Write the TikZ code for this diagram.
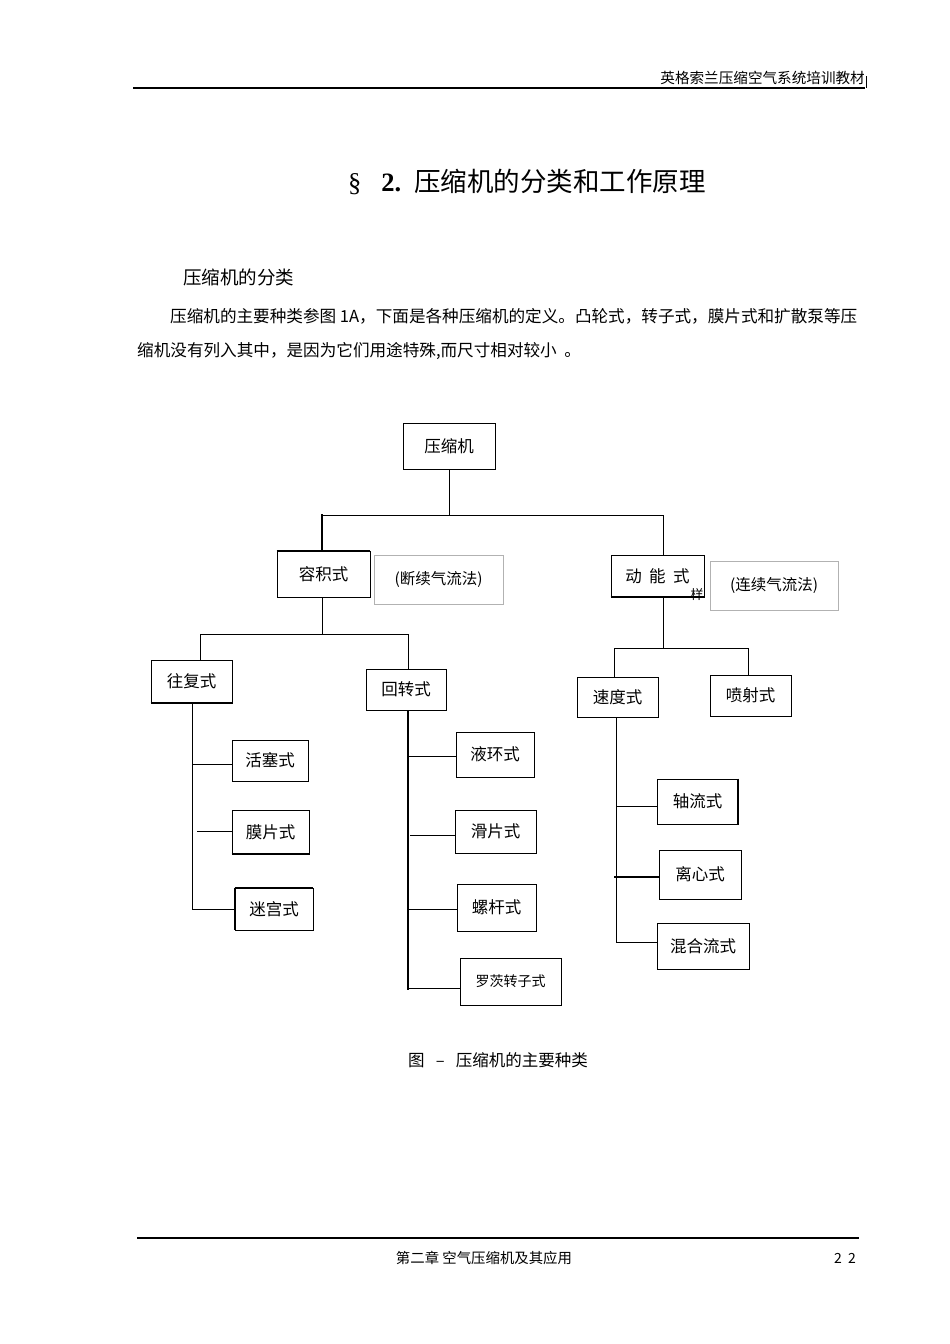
\documentclass[tikz,border=0pt]{standalone}
\usepackage{fontspec}
\setmainfont{Liberation Serif}
\newfontfamily\cjk{Noto Sans CJK SC}
\begin{document}
\begin{tikzpicture}[x=1pt,y=-1pt,
  box/.style={draw,line width=0.9pt,inner sep=0pt,font=\cjk\fontsize{16.5}{16.5}\selectfont},
  note/.style={draw=black!30,line width=0.7pt,inner sep=0pt,font=\cjk\fontsize{15.5}{15.5}\selectfont},
  ln/.style={line width=0.9pt},
  thk/.style={line width=2pt}]
\useasboundingbox (0,0) rectangle (950,1344);
\newcommand\bx[6]{\node[box,minimum width=#4-#2,minimum height=#5-#3] (#1) at ({(#2+#4)/2},{(#3+#5)/2}) {#6};}
% header
\draw[line width=2.5pt] (133,88) coordinate (h1) -- (865,88) coordinate (h2);
\draw[line width=0.5pt] (866,76) -- (866,88);
\node[anchor=base east,font=\cjk\fontsize{14.6}{14.6}\selectfont,inner sep=0] (hdr) at (865,83) {英格索兰压缩空气系统培训教材};
\node[anchor=base,font=\fontsize{26.5}{26.5}\selectfont,inner sep=0] (title) at (527,191) {§\ \ \ \textbf{2.}\ \ {\cjk 压缩机的分类和工作原理}};
\node[anchor=base west,font=\cjk\fontsize{18.5}{18.5}\selectfont,inner sep=0] (sub) at (183,284) {压缩机的分类};
\node[anchor=base west,font=\cjk\fontsize{16.6}{16.6}\selectfont,inner sep=0] (p1) at (170,322) {压缩机的主要种类参图 1A，下面是各种压缩机的定义。凸轮式，转子式，膜片式和扩散泵等压};
\node[anchor=base west,font=\cjk\fontsize{16.6}{16.6}\selectfont,inner sep=0] (p2) at (137,356) {缩机没有列入其中，是因为它们用途特殊,而尺寸相对较小\ \ 。};
% boxes
\bx{root}{403}{423}{495}{469}{压缩机}
\bx{rj}{277}{551}{370}{597}{容积式}
\node[note,minimum width=129,minimum height=49] (n1) at (438.5,579.5) {(断续气流法)};
\bx{dn}{611}{555}{704}{597}{动\ \ 能\ \ 式}
\node[note,minimum width=128,minimum height=49] (n2) at (774,585.5) {(连续气流法)};
\node[font=\cjk\fontsize{13}{13}\selectfont,inner sep=0] (yang) at (697,595) {样};
\bx{wf}{151}{660}{232}{703}{往复式}
\bx{hz}{366}{669}{446}{710}{回转式}
\bx{sd}{577}{677}{658}{717}{速度式}
\bx{ps}{710}{675}{791}{716}{喷射式}
\bx{hs}{232}{740}{308}{781}{活塞式}
\bx{mp}{232}{810}{309}{854}{膜片式}
\bx{mg}{235}{888}{313}{930}{迷宫式}
\bx{yh}{456}{732}{534}{777}{液环式}
\bx{hp}{455}{810}{536}{853}{滑片式}
\bx{lg}{457}{884}{536}{931}{螺杆式}
\node[box,minimum width=101,minimum height=47,font=\cjk\fontsize{14}{14}\selectfont] (lc) at (510.5,981.5) {罗茨转子式};
\bx{zl}{657}{779}{738}{824}{轴流式}
\bx{lx}{659}{850}{741}{899}{离心式}
\bx{hh}{657}{923}{749}{969}{混合流式}
% heavy edges
\draw[thk] (rj.north west) -- (rj.north east);
\draw[thk] (dn.south west) -- (dn.south east);
\draw[thk] (wf.south west) -- (wf.south east);
\draw[thk] (mp.south west) -- (mp.south east);
\draw[thk] (mg.north west) -- (mg.north east);
\draw[thk] (mg.north west) -- (mg.south west);
\draw[thk] (zl.north east) -- (zl.south east);
% connectors
\draw[ln] (root.south) -- (449,515) coordinate (j0);
\draw[ln] (322,515) -- (663,515);
\draw[thk] (322,514) -- (rj.north-|322,0);
\draw[ln] (663,515) -- (dn.north-|663,0);
\draw[ln] (rj.south-|322,0) -- (322,634);
\draw[ln] (200,634) -- (408,634);
\draw[ln] (200,634) -- (wf.north-|200,0);
\draw[ln] (408,634) -- (hz.north-|408,0);
\draw[ln] (dn.south-|663,0) -- (663,648);
\draw[ln] (614,648) -- (748,648);
\draw[ln] (614,648) -- (sd.north-|614,0);
\draw[ln] (748,648) -- (ps.north-|748,0);
\draw[ln] (wf.south-|192,0) -- (192,909);
\draw[ln] (192,764) -- (hs.west|-0,764);
\draw[ln] (197,831) -- (mp.west|-0,831);
\draw[ln] (192,909) -- (mg.west|-0,909);
\draw[thk] (hz.south-|408,0) -- (408,990);
\draw[ln] (408,756) -- (yh.west|-0,756);
\draw[ln] (410,835) -- (hp.west|-0,835);
\draw[ln] (408,909) -- (lg.west|-0,909);
\draw[ln] (408,988) -- (lc.west|-0,988);
\draw[ln] (sd.south-|616,0) -- (616,942);
\draw[ln] (616,806) -- (zl.west|-0,806);
\draw[thk] (614,877) -- (lx.west|-0,877);
\draw[ln] (616,942) -- (hh.west|-0,942);
% caption & footer
\node[anchor=base,font=\cjk\fontsize{16.5}{16.5}\selectfont,inner sep=0] (cap) at (498,1066) {图\ \ \ –\ \ \ 压缩机的主要种类};
\draw[line width=2.5pt] (137,1238) -- (859,1238);
\node[anchor=base,font=\cjk\fontsize{14.4}{14.4}\selectfont,inner sep=0] (ft) at (484,1263) {第二章\ 空气压缩机及其应用};
\node[anchor=base,font=\cjk\fontsize{14}{14}\selectfont,inner sep=0] (pg) at (845,1263) {2\ \ 2};
\end{tikzpicture}
\end{document}
